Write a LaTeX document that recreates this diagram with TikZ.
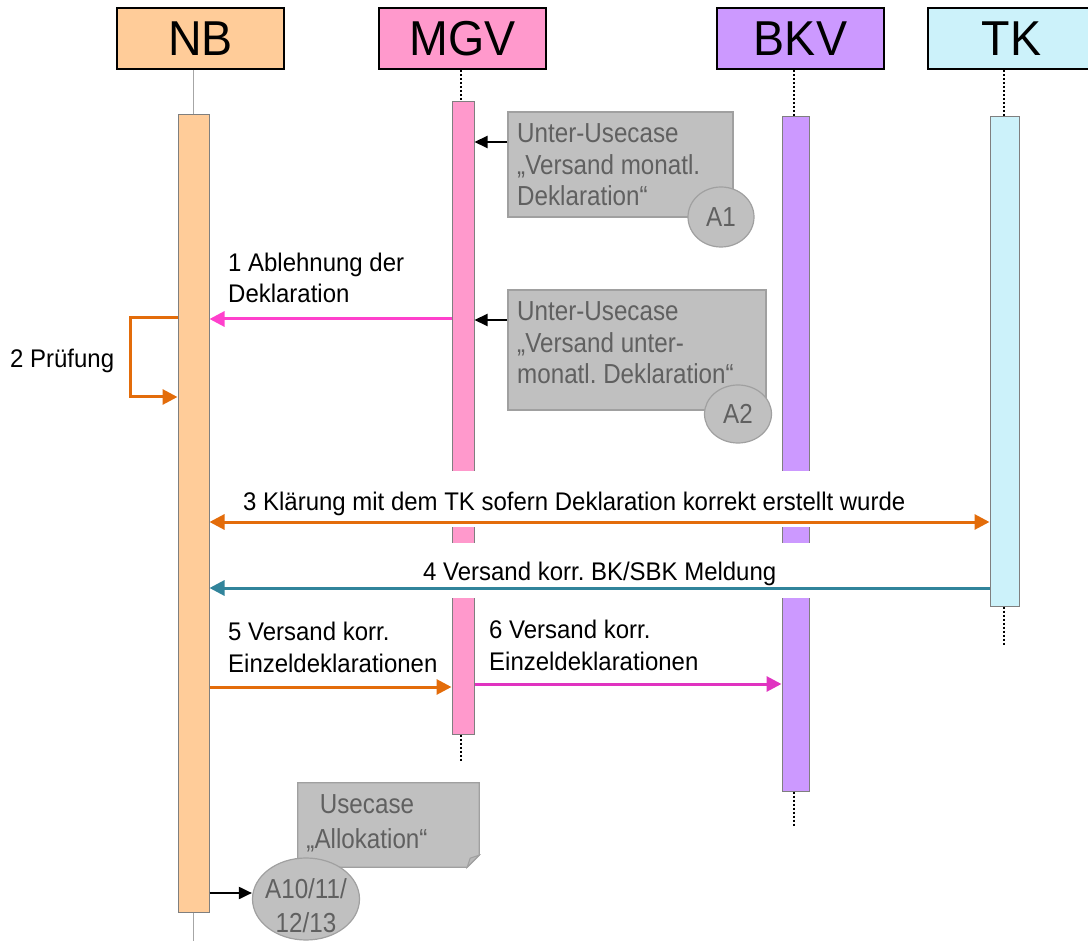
\documentclass[tikz,border=0pt]{standalone}
\usepackage{fontspec}
\setmainfont{Liberation Sans}
\newfontfamily\hdrfont[FakeStretch=0.95]{Liberation Sans}
\newfontfamily\lblfont[FakeStretch=0.94]{Liberation Sans}
\newfontfamily\notefont[FakeStretch=0.88]{Liberation Sans}
\usetikzlibrary{arrows.meta,shapes.geometric}

\definecolor{nbfill}{HTML}{FFCC99}
\definecolor{mgvfill}{HTML}{FF99CC}
\definecolor{bkvfill}{HTML}{CC99FF}
\definecolor{tkfill}{HTML}{CCF2FA}
\definecolor{notefill}{HTML}{C0C0C0}
\definecolor{noteline}{HTML}{A0A0A0}
\definecolor{notetext}{HTML}{606060}
\definecolor{barline}{HTML}{7F7F7F}
\definecolor{msgorange}{HTML}{E36C0A}
\definecolor{msgpink}{HTML}{FF40CC}
\definecolor{msgmagenta}{HTML}{E033C0}
\definecolor{msgteal}{HTML}{31849B}

\tikzset{
  hdr/.style={draw=black, line width=2pt, minimum width=167pt, minimum height=61pt,
    inner sep=0pt, font=\hdrfont\fontsize{49}{52}\selectfont},
  actbar/.style={draw=barline, line width=1pt, inner sep=0pt},
  lifedots/.style={line width=2.5pt, dash pattern=on 2pt off 2pt},
  lifethin/.style={draw=gray!70, line width=0.8pt},
  msg/.style={line width=3pt, -{Triangle[length=15pt,width=15pt]}},
  dmsg/.style={line width=3pt, {Triangle[length=15pt,width=15pt]}-{Triangle[length=15pt,width=15pt]}},
  callarrow/.style={line width=2pt, -{Triangle[length=13pt,width=12pt]}},
  % multi-line nodes: base anchor sits on the last line
  lbl/.style={font=\lblfont\fontsize{25.5}{31.5}\selectfont, align=left, inner sep=0pt, anchor=base west},
  notebox/.style={fill=notefill, draw=noteline, line width=1.2pt, inner sep=0pt},
  notetxt/.style={text=notetext, font=\notefont\fontsize{27.5}{31.5}\selectfont, align=left,
    inner sep=0pt, anchor=base west},
  uc/.style={ellipse, fill=notefill, draw=noteline, line width=1.2pt, text=notetext,
    font=\notefont\fontsize{27.5}{34}\selectfont, align=center, inner sep=0pt}
}

\begin{document}
\begin{tikzpicture}[x=1pt,y=-1pt]
\useasboundingbox (0,0) rectangle (1088,941);

% participants
\node[hdr, fill=nbfill]  (NB)  at (200.5,38.5)  {\raisebox{-2pt}{NB}};
\node[hdr, fill=mgvfill] (MGV) at (462.5,38.5)  {\raisebox{-2pt}{MGV}};
\node[hdr, fill=bkvfill] (BKV) at (800.5,38.5)  {\raisebox{-2pt}{BKV}};
\node[hdr, fill=tkfill]  (TK)  at (1011.5,38.5) {\raisebox{-2pt}{TK}};

% activation bars
\node[actbar, fill=nbfill,  minimum width=31pt, minimum height=797pt] (NBb)  at (193.5,513.5) {};
\node[actbar, fill=mgvfill, minimum width=22pt, minimum height=632pt] (MGVb) at (463,418)    {};
\node[actbar, fill=bkvfill, minimum width=27pt, minimum height=674pt] (BKVb) at (795.5,454)  {};
\node[actbar, fill=tkfill,  minimum width=29pt, minimum height=489pt] (TKb)  at (1004.5,361.5) {};

% lifelines
\coordinate (NBend)  at (193.5,941);
\coordinate (MGVend) at (461,762);
\coordinate (BKVend) at (794,826);
\coordinate (TKend)  at (1004,645);
\draw[lifethin] (NBb.north |- NB.south) -- (NBb.north);
\draw[lifethin] (NBb.south) -- (NBend);
\draw[lifedots] (MGVend |- MGV.south) -- (MGVend |- MGVb.north);
\draw[lifedots] (MGVend |- MGVb.south) -- (MGVend);
\draw[lifedots] (BKVend |- BKV.south) -- (BKVend |- BKVb.north);
\draw[lifedots] (BKVend |- BKVb.south) -- (BKVend);
\draw[lifedots] (TKend |- TK.south) -- (TKend |- TKb.north);
\draw[lifedots] (TKend |- TKb.south) -- (TKend);

% sub use cases called by MGV
\node[notebox, minimum width=225pt, minimum height=105pt] (noteA1) at (620.5,164.5) {};
\node[notetxt] (noteA1txt) at (517,206) {Unter-Usecase\\„Versand monatl.\\Deklaration“};
\node[uc, minimum width=66pt, minimum height=60pt] (A1) at (721,217) {\raisebox{-5pt}{A1}};
\draw[callarrow] (noteA1.west |- 0,142) -- (MGVb.east |- 0,142);

\node[notebox, minimum width=258pt, minimum height=120pt] (noteA2) at (637,350) {};
\node[notetxt] (noteA2txt) at (517,384) {Unter-Usecase\\„Versand unter-\\monatl.\ Deklaration“};
\node[uc, minimum width=67pt, minimum height=58pt] (A2) at (738,414) {\raisebox{-5pt}{A2}};
\draw[callarrow] (noteA2.west |- 0,320) -- (MGVb.east |- 0,320);

% 1 rejection
\draw[msg, msgpink] (MGVb.west |- 0,319) -- (NBb.east |- 0,319);
\node[lbl] (m1) at (228,303) {1 Ablehnung der\\Deklaration};

% 2 check (self call)
\coordinate (loopTop) at (130,318);
\coordinate (loopBot) at (130,397);
\draw[msg, msgorange] (NBb.west |- loopTop) -- (loopTop) -- (loopBot) -- (NBb.west |- loopBot);
\node[lbl] (m2) at (10,368) {2 Prüfung};

% 3 clarification with TK
\fill[white] (NBb.east |- 0,471) rectangle (TKb.west |- 0,527);
\draw[dmsg, msgorange] (NBb.east |- 0,522) -- (TKb.west |- 0,522);
\node[lbl] (m3) at (243,510) {3 Klärung mit dem TK sofern Deklaration korrekt erstellt wurde};

% 4 corrected BK/SBK message
\fill[white] (NBb.east |- 0,543) rectangle (TKb.west |- 0,598);
\draw[msg, msgteal] (TKb.west |- 0,588) -- (NBb.east |- 0,588);
\node[lbl] (m4) at (423,580) {4 Versand korr.\ BK/SBK Meldung};

% 5 and 6 corrected single declarations
\draw[msg, msgorange] (NBb.east |- 0,687) -- (MGVb.west |- 0,687);
\node[lbl] (m5) at (228,672) {5 Versand korr.\\Einzeldeklarationen};
\draw[msg, msgmagenta] (MGVb.east |- 0,684) -- (BKVb.west |- 0,684);
\node[lbl] (m6) at (489,670) {6 Versand korr.\\Einzeldeklarationen};

% use case Allokation
\node[inner sep=0pt, minimum width=181pt, minimum height=84pt] (noteAl) at (388.5,825) {};
\filldraw[fill=notefill, draw=noteline, line width=1.2pt]
  (noteAl.north west) -- (noteAl.north east) -- ([yshift=12pt]noteAl.south east)
  -- ([xshift=-12pt]noteAl.south east) -- (noteAl.south west) -- cycle;
\filldraw[fill=gray!55, draw=noteline, line width=1pt]
  ([yshift=12pt]noteAl.south east) -- ([xshift=-9pt,yshift=9pt]noteAl.south east)
  -- ([xshift=-12pt]noteAl.south east) -- cycle;
\node[text=notetext, font=\notefont\fontsize{27.5}{35}\selectfont, align=center, inner sep=0pt,
  anchor=base] (alText) at (367,848) {Usecase\\„Allokation“};
\node[uc, minimum width=107pt, minimum height=82pt] (A10) at (306,899) {};
\node[text=notetext, font=\notefont\fontsize{27.5}{34}\selectfont, align=center, inner sep=0pt,
  anchor=base] (A10txt) at (306,932) {A10/11/\\12/13};
\draw[callarrow] (NBb.east |- 0,893) -- (A10.west |- 0,893);

\end{tikzpicture}
\end{document}
